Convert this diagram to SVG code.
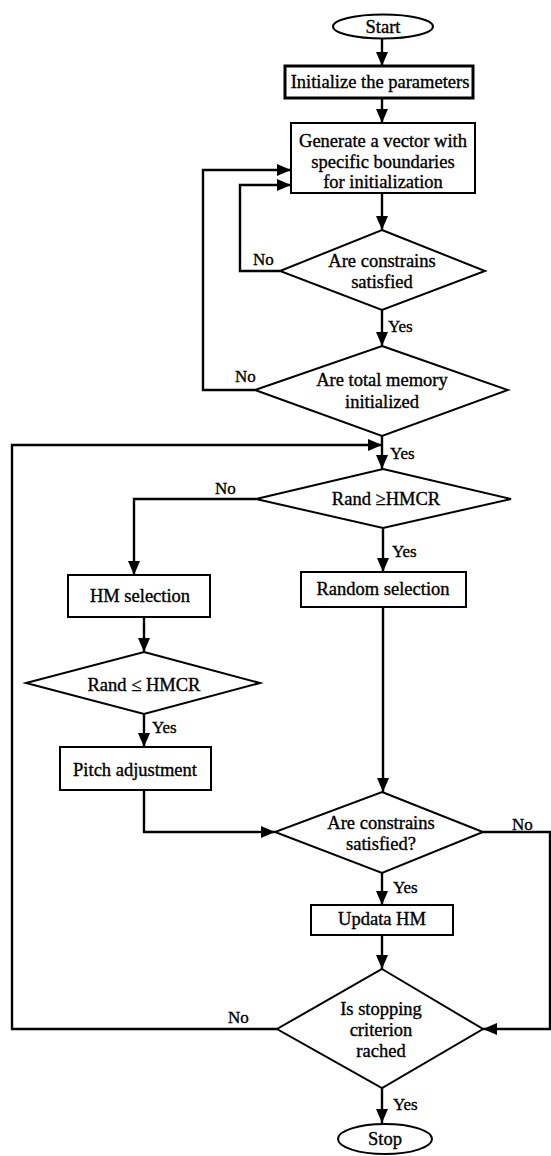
<svg xmlns="http://www.w3.org/2000/svg" width="551" height="1156" viewBox="0 0 551 1156">
<style>
  .shape { fill: #ffffff; stroke: #000000; stroke-width: 2; }
  .thick { stroke-width: 3; }
  .conn { fill: none; stroke: #000000; stroke-width: 2.4; }
  text { font-family: "Liberation Serif", "Times New Roman", serif; font-size: 18.5px; fill: #000000; stroke: #000000; stroke-width: 0.35; }
  .c { text-anchor: middle; }
  .lbl { font-size: 17px; }
</style>
<defs>
  <marker id="arr" markerUnits="userSpaceOnUse" markerWidth="14" markerHeight="12" viewBox="0 0 14 12" refX="14" refY="6" orient="auto">
    <path d="M0,0 L14,6 L0,12 Z" fill="#000000"/>
  </marker>
</defs>
<rect width="551" height="1156" fill="#ffffff"/>

<g id="connectors">
  <path class="conn" d="M382,38 V66" marker-end="url(#arr)"/>
  <path class="conn" d="M382,98 V123" marker-end="url(#arr)"/>
  <path class="conn" d="M382,193 V230" marker-end="url(#arr)"/>
  <path class="conn" d="M280,271 H240 V185 H291" marker-end="url(#arr)"/>
  <path class="conn" d="M382,310 V346" marker-end="url(#arr)"/>
  <path class="conn" d="M255,390 H203 V170 H291" marker-end="url(#arr)"/>
  <path class="conn" d="M382,436 V469" marker-end="url(#arr)"/>
  <path class="conn" d="M277,1029 H12 V445 H382" marker-end="url(#arr)"/>
  <path class="conn" d="M256,499 H134 V575" marker-end="url(#arr)"/>
  <path class="conn" d="M383,528 V572" marker-end="url(#arr)"/>
  <path class="conn" d="M144,617 V652" marker-end="url(#arr)"/>
  <path class="conn" d="M144,714 V747" marker-end="url(#arr)"/>
  <path class="conn" d="M144,790 V832 H275" marker-end="url(#arr)"/>
  <path class="conn" d="M383,607 V792" marker-end="url(#arr)"/>
  <path class="conn" d="M382,873 V905" marker-end="url(#arr)"/>
  <path class="conn" d="M483,832 H550 V1029 H483" marker-end="url(#arr)"/>
  <path class="conn" d="M382,935 V969" marker-end="url(#arr)"/>
  <path class="conn" d="M382,1088 V1123" marker-end="url(#arr)"/>
  <text class="lbl" x="253" y="265">No</text>
  <text class="lbl" x="388" y="332">Yes</text>
  <text class="lbl" x="235" y="382">No</text>
  <text class="lbl" x="390" y="459">Yes</text>
  <text class="lbl" x="215" y="494">No</text>
  <text class="lbl" x="392" y="557">Yes</text>
  <text class="lbl" x="152" y="733">Yes</text>
  <text class="lbl" x="512" y="830">No</text>
  <text class="lbl" x="393" y="893">Yes</text>
  <text class="lbl" x="228" y="1023">No</text>
  <text class="lbl" x="393" y="1110">Yes</text>
</g>

<g id="start">
  <ellipse class="shape" cx="383" cy="26.5" rx="50" ry="12"/>
  <text class="c" x="383" y="33">Start</text>
</g>
<g id="init">
  <rect class="shape thick" x="285" y="66" width="188" height="32"/>
  <text class="c" x="380" y="88">Initialize the parameters</text>
</g>
<g id="generate">
  <rect class="shape" x="291" y="123" width="184" height="70"/>
  <text class="c" x="383" y="147">Generate a vector with</text>
  <text class="c" x="383" y="168">specific boundaries</text>
  <text class="c" x="383" y="188">for initialization</text>
</g>
<g id="check1">
  <polygon class="shape" points="382,230 485,271 382,310 280,271"/>
  <text class="c" x="382" y="267">Are constrains</text>
  <text class="c" x="382" y="288">satisfied</text>
</g>
<g id="memory">
  <polygon class="shape" points="382,346 508,390 382,436 255,390"/>
  <text class="c" x="382" y="386">Are total memory</text>
  <text class="c" x="382" y="408">initialized</text>
</g>
<g id="hmcr1">
  <polygon class="shape" points="383,469 511,499 383,528 256,499"/>
  <text class="c" x="386" y="505">Rand ≥HMCR</text>
</g>
<g id="hmsel">
  <rect class="shape" x="68" y="575" width="142" height="42"/>
  <text class="c" x="140" y="602">HM selection</text>
</g>
<g id="randsel">
  <rect class="shape" x="301" y="572" width="165" height="35"/>
  <text class="c" x="383" y="595">Random selection</text>
</g>
<g id="hmcr2">
  <polygon class="shape" points="144,652 260,683 144,714 26,683"/>
  <text class="c" x="144" y="691">Rand ≤ HMCR</text>
</g>
<g id="pitch">
  <rect class="shape" x="60" y="747" width="151" height="43"/>
  <text class="c" x="135" y="776">Pitch adjustment</text>
</g>
<g id="check2">
  <polygon class="shape" points="382,792 483,832 382,873 275,832"/>
  <text class="c" x="381" y="829">Are constrains</text>
  <text class="c" x="381" y="850">satisfied?</text>
</g>
<g id="update">
  <rect class="shape" x="311" y="905" width="142" height="30"/>
  <text class="c" x="382" y="925">Updata HM</text>
</g>
<g id="stopcheck">
  <polygon class="shape" points="382,969 483,1029 382,1088 277,1029"/>
  <text class="c" x="381" y="1015">Is stopping</text>
  <text class="c" x="381" y="1036">criterion</text>
  <text class="c" x="381" y="1057">rached</text>
</g>
<g id="stop">
  <ellipse class="shape" cx="385" cy="1139" rx="47" ry="15"/>
  <text class="c" x="385" y="1145">Stop</text>
</g>
</svg>
